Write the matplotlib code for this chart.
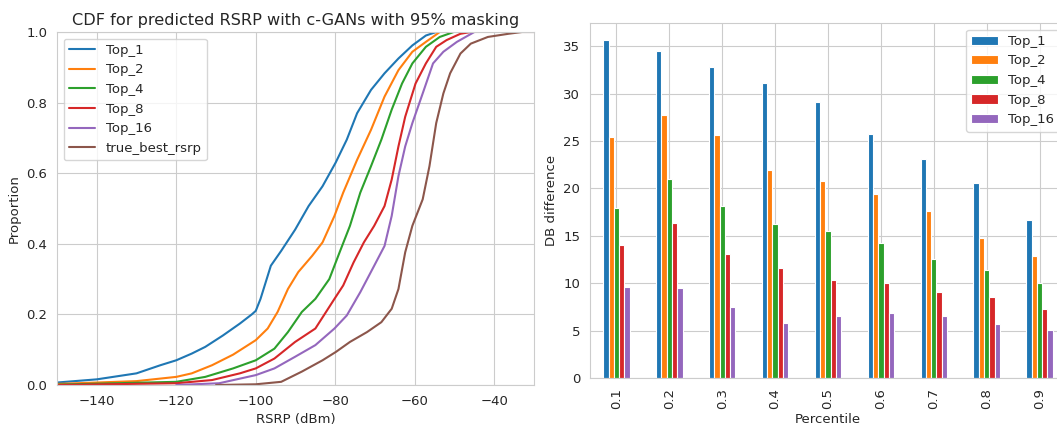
import numpy as np
import matplotlib
matplotlib.use("Agg")
import matplotlib.pyplot as plt
import seaborn as sns

sns.set_style("whitegrid")
plt.rcParams['font.family'] = ['DejaVu Sans']

# ---------------- Left: CDF data ----------------
top1_x = [-150, -140, -130, -124, -120, -116.1, -112.7, -108.3, -104, -101, -100, -98.8, -96.2, -93.6,
          -90.1, -86.7, -83.2, -79.9, -77.1, -74.5, -71, -67.6, -64.1, -60.6, -57.2, -54.6]
top1_y = [0.007, 0.016, 0.033, 0.056, 0.07, 0.089, 0.108, 0.14, 0.174, 0.20, 0.21, 0.244, 0.338, 0.38,
          0.44, 0.507, 0.563, 0.63, 0.695, 0.77, 0.836, 0.883, 0.925, 0.962, 0.99, 1.0]

top2_x = [-150, -130, -120, -116.1, -111, -105.7, -100, -97, -94.5, -91.9, -89.3, -85.8, -83.2, -80.2,
          -78, -74.5, -71, -67.6, -64.1, -60.6, -57.2, -53.7]
top2_y = [0.003, 0.011, 0.023, 0.033, 0.056, 0.086, 0.127, 0.16, 0.207, 0.272, 0.32, 0.366, 0.404, 0.479,
          0.545, 0.638, 0.723, 0.817, 0.892, 0.944, 0.972, 1.0]

top4_x = [-150, -120, -112.7, -105.7, -100, -95.3, -91.9, -88.4, -85, -81.5, -78.9, -76.3, -73.7, -71,
          -68.4, -65.8, -63.2, -60.6, -57.2, -53.7, -50.2]
top4_y = [0.001, 0.009, 0.023, 0.047, 0.07, 0.103, 0.15, 0.207, 0.244, 0.30, 0.376, 0.451, 0.545, 0.62,
          0.695, 0.78, 0.854, 0.911, 0.958, 0.986, 1.0]

top8_x = [-150, -120, -111, -104, -100, -95.3, -90.1, -85, -80.2, -78, -75.4, -72.8, -70.2, -67.6,
          -65.8, -64.1, -62.4, -59.8, -57.2, -54.6, -52, -48.5, -45.9]
top8_y = [0.0, 0.005, 0.014, 0.033, 0.047, 0.075, 0.122, 0.16, 0.244, 0.282, 0.347, 0.404, 0.451, 0.507,
          0.582, 0.676, 0.76, 0.854, 0.911, 0.958, 0.977, 0.995, 1.0]

top16_x = [-120, -109.2, -100, -95.3, -90.1, -85, -80.2, -77.1, -73.7, -70.2, -67.6, -65.8, -64.1,
           -62.4, -60.6, -58, -55.4, -52.8, -49.4, -45]
top16_y = [0.0, 0.005, 0.028, 0.047, 0.08, 0.113, 0.16, 0.197, 0.263, 0.338, 0.394, 0.479, 0.592,
           0.676, 0.742, 0.826, 0.911, 0.944, 0.972, 1.0]

true_x = [-110, -100, -93.6, -88.4, -83.2, -79.8, -76.3, -72, -68.4, -65.8, -64.1, -62.4, -60.6, -58,
          -56.3, -54.6, -52.8, -51.1, -48.5, -45.9, -41.6, -36.4, -33, -30]
true_y = [0.0, 0.002, 0.009, 0.038, 0.07, 0.094, 0.122, 0.15, 0.178, 0.216, 0.272, 0.376, 0.451, 0.526,
          0.62, 0.742, 0.826, 0.883, 0.939, 0.967, 0.986, 0.995, 1.0, 1.0]

cdf_labels = ["Top_1", "Top_2", "Top_4", "Top_8", "Top_16", "true_best_rsrp"]

# ---------------- Right: bar data ----------------
percentiles = ["0.1", "0.2", "0.3", "0.4", "0.5", "0.6", "0.7", "0.8", "0.9"]
bar_top1 = [35.67, 34.54, 32.78, 31.09, 29.09, 25.75, 23.07, 20.61, 16.64]
bar_top2 = [25.43, 27.72, 25.68, 21.98, 20.75, 19.42, 17.59, 14.81, 12.91]
bar_top4 = [17.97, 21.03, 18.18, 16.25, 15.55, 14.21, 12.52, 11.36, 10.02]
bar_top8 = [14.03, 16.32, 13.12, 11.61, 10.31, 10.02, 9.11, 8.51, 7.32]
bar_top16 = [9.60, 9.46, 7.46, 5.84, 6.51, 6.82, 6.51, 5.66, 5.03]
bar_labels = ["Top_1", "Top_2", "Top_4", "Top_8", "Top_16"]

colors = ["#1f77b4", "#ff7f0e", "#2ca02c", "#d62728", "#9467bd", "#8c564b"]

W, H = 1057, 428
fig = plt.figure(figsize=(W / 100, H / 100), dpi=100)

ax1 = fig.add_axes([57 / W, (H - 385) / H, (534 - 57) / W, (385 - 32) / H])
cdf_x = [top1_x, top2_x, top4_x, top8_x, top16_x, true_x]
cdf_y = [top1_y, top2_y, top4_y, top8_y, top16_y, true_y]
for xs, ys, lab, c in zip(cdf_x, cdf_y, cdf_labels, colors):
    ax1.plot(xs, ys, color=c, lw=1.5, label=lab)
ax1.set_xlim(-150, -30)
ax1.set_ylim(0, 1)
ax1.set_xticks([-140, -120, -100, -80, -60, -40])
ax1.set_yticks([0.0, 0.2, 0.4, 0.6, 0.8, 1.0])
ax1.tick_params(labelsize=9.5, colors="#262626")
ax1.set_xlabel("RSRP (dBm)", fontsize=9.5, labelpad=4, color="#262626")
ax1.set_ylabel("Proportion", fontsize=9.5, color="#262626")
ax1.set_title("CDF for predicted RSRP with c-GANs with 95% masking", fontsize=11.6, pad=5, color="#262626")
ax1.legend(loc="upper left", fontsize=9.5)

ax2 = fig.add_axes([590 / W, (H - 378) / H, (1066 - 590) / W, (378 - 23) / H])
pos = np.arange(len(percentiles))
series = [bar_top1, bar_top2, bar_top4, bar_top8, bar_top16]
K = len(series)
w = 0.5 / K
for j, (vals, lab, c) in enumerate(zip(series, bar_labels, colors)):
    ax2.bar(pos + (j - (K - 1) / 2) * w, vals, width=w, color=c, edgecolor="white", linewidth=0.8, label=lab)
ax2.set_xlim(-0.5, len(percentiles) - 0.5)
ax2.set_xticks(pos)
ax2.set_xticklabels(percentiles, rotation=90)
ax2.tick_params(labelsize=9.5, colors="#262626")
ax2.set_yticks([0, 5, 10, 15, 20, 25, 30, 35])
ax2.set_xlabel("Percentile", fontsize=9.5, labelpad=3, color="#262626")
ax2.set_ylabel("DB difference", fontsize=9.5, color="#262626")
ax2.legend(loc="upper right", fontsize=9.5)

fig.savefig("out.png", dpi=100)
